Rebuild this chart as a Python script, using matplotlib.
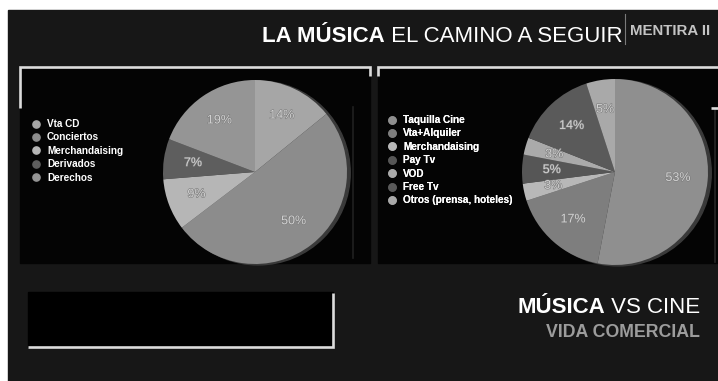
import matplotlib
matplotlib.use("Agg")
import matplotlib.pyplot as plt
from matplotlib.patches import Rectangle, Circle
from matplotlib.lines import Line2D
import matplotlib.patheffects as pe

plt.rcParams['font.family'] = ['Liberation Sans', 'DejaVu Sans']

# --- data -------------------------------------------------------------
musica_labels = ["Vta CD", "Conciertos", "Merchandaising", "Derivados", "Derechos"]
musica_values = [14, 50, 9, 7, 19]
musica_colors = ["#a6a6a6", "#8c8c8c", "#b6b6b6", "#5e5e5e", "#959595"]

cine_labels = ["Taquilla Cine", "Vta+Alquiler", "Merchandaising", "Pay Tv", "VOD",
               "Free Tv", "Otros (prensa, hoteles)"]
cine_values = [53, 17, 3, 5, 3, 14, 5]
cine_colors = ["#8f8f8f", "#7e7e7e", "#b8b8b8", "#565656", "#aaaaaa", "#5a5a5a", "#a9a9a9"]

W, H = 718, 381
fig = plt.figure(figsize=(W / 100, H / 100), dpi=100)
fig.patch.set_facecolor("white")

# background canvas in pixel coordinates
bg = fig.add_axes([0, 0, 1, 1])
bg.set_xlim(0, W)
bg.set_ylim(H, 0)
bg.axis("off")

bg.add_patch(Rectangle((8, 10), W - 8, H - 10, color="#171717", zorder=0))
bg.add_patch(Rectangle((20, 67), 350, 196, color="#040404", zorder=1))
bg.add_patch(Rectangle((378, 67), 340, 196, color="#040404", zorder=1))
bg.add_patch(Rectangle((28, 292), 305, 55, color="#000000", zorder=1))

line_kw = dict(color="#dcdcdc", lw=1.9, solid_joinstyle="miter", solid_capstyle="butt", zorder=3)
bg.plot([20, 20, 370, 370], [108, 67, 67, 76], **line_kw)
bg.plot([378, 378, 718], [76, 67, 67], **line_kw)
bg.plot([711, 718], [108, 108], **line_kw)
bg.plot([28, 333, 333], [347, 347, 293], **line_kw)
bg.plot([715, 715], [109, 262], color="#262626", lw=1.2, zorder=2)
bg.plot([353, 353], [107, 258], color="#202020", lw=1.2, zorder=2)

renderer = fig.canvas.get_renderer()


def chained_text(x, y, parts, ha="left"):
    """Draw consecutive text runs on one baseline, starting at pixel x."""
    objs = []
    for txt, kw in parts:
        objs.append(bg.text(x, y, txt, va="baseline", ha="left", zorder=5, **kw))
    widths = [o.get_window_extent(renderer=renderer).width for o in objs]
    total = sum(widths)
    start = x - total if ha == "right" else x
    for o, w in zip(objs, widths):
        o.set_x(start)
        start += w
    return objs


chained_text(262, 42, [("LA MÚSICA", dict(fontsize=16.0, fontweight="bold", color="white")),
                       (" EL CAMINO A SEGUIR", dict(fontsize=16.0, color="white"))])
bg.plot([625, 625], [14, 44], color="#7a7a7a", lw=0.8, zorder=4)
bg.text(630, 35, "MENTIRA II", fontsize=10.8, fontweight="bold", color="#c4c4c4",
        va="baseline", ha="left", zorder=5)

chained_text(700, 313, [("MÚSICA", dict(fontsize=16.0, fontweight="bold", color="white")),
                        (" VS CINE", dict(fontsize=16.0, color="white"))], ha="right")
bg.text(700, 337, "VIDA COMERCIAL", fontsize=12.8, fontweight="bold", color="#9c9c9c",
        va="baseline", ha="right", zorder=5)


def pie_panel(cx, cy, r, values, colors):
    pad = 1.12
    R = r * pad
    ax = fig.add_axes([(cx - R) / W, 1 - (cy + R) / H, 2 * R / W, 2 * R / H])
    total = sum(values)
    wedges, _, autotexts = ax.pie(
        values, colors=colors, startangle=90, counterclock=False,
        autopct=lambda p: f"{p * total / 100:.0f}%", pctdistance=0.68,
        wedgeprops=dict(linewidth=0),
        textprops=dict(color="#d2d2d2", fontsize=9),
    )
    for t in autotexts:
        t.set_path_effects([pe.withStroke(linewidth=0.8, foreground="#7a7a7a")])
    ax.add_patch(Circle((0.035, -0.01), 1.0, color="#3a3a3a", zorder=0.5))
    ax.set_xlim(-pad, pad)
    ax.set_ylim(-pad, pad)
    ax.set_aspect("equal")
    ax.axis("off")
    return wedges


pie_panel(255, 172, 92, musica_values, musica_colors)
pie_panel(615, 172, 93, cine_values, cine_colors)


def legend_at(x, y, labels, colors):
    handles = [Line2D([], [], marker="o", linestyle="none", markersize=5.2,
                      markerfacecolor=c, markeredgecolor=c) for c in colors]
    leg = bg.legend(handles, labels, loc="upper left", bbox_to_anchor=(x, y),
                    bbox_transform=bg.transData, frameon=False, borderpad=0,
                    borderaxespad=0, handlelength=1.0, handletextpad=0.6,
                    labelspacing=0.34, prop=dict(size=7.2, weight="bold"))
    for t in leg.get_texts():
        t.set_color("white")
    leg.set_zorder(6)
    bg.add_artist(leg)


legend_at(31, 119, musica_labels, musica_colors)
legend_at(387, 115, cine_labels, cine_colors)

fig.savefig("out.png", dpi=100, facecolor=fig.get_facecolor())
